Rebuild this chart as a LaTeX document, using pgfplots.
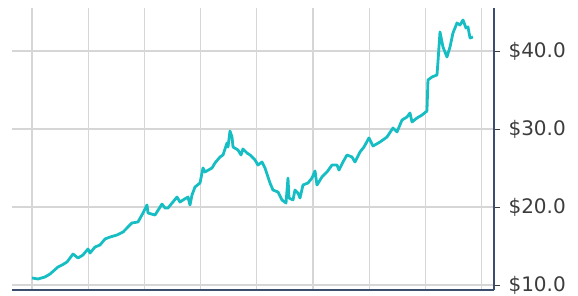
\documentclass[border=0pt]{standalone}
\usepackage{fontspec}
\setmainfont{DejaVu Sans}
\usepackage{pgfplots}
\pgfplotsset{compat=1.18}
\definecolor{linecyan}{RGB}{22,190,196}
\definecolor{spinecol}{RGB}{60,78,112}
\definecolor{gridcol}{RGB}{214,214,214}
\definecolor{labelcol}{RGB}{60,60,60}
\begin{document}
\begin{tikzpicture}
\begin{axis}[
  at={(0pt,0pt)}, anchor=south west,
  scale only axis, width=482pt, height=282pt,
  xmin=-0.356, xmax=8.221,
  ymin=9.36, ymax=45.51,
  axis x line=bottom, axis y line=right,
  axis line style={-, draw=spinecol, line width=1.1pt},
  xtick={0,1,2,3,4,5,6,7,8}, xticklabels={},
  xtick style={draw=none},
  ytick={10,20,30,40},
  yticklabel={\$\pgfmathprintnumber[fixed,fixed zerofill,precision=1]{\tick}},
  /pgf/number format/assume math mode=true,
  tick align=outside, major tick length=6pt,
  ytick style={draw=labelcol, line width=0.9pt},
  tick label style={font=\fontsize{20}{23}\selectfont, text=labelcol},
  yticklabel style={xshift=5pt},
  grid=major,
  major grid style={draw=gridcol, line width=1.2pt},
  clip=false,
]
\addplot[color=linecyan, line width=2.8pt, line join=round, mark=none] coordinates {
(0.000,10.90) (0.107,10.77) (0.231,11.03) (0.320,11.41) (0.463,12.31) (0.534,12.56)
(0.623,12.95) (0.730,13.97) (0.819,13.46) (0.907,13.85) (0.996,14.62) (1.032,14.10)
(1.121,14.87) (1.210,15.13) (1.299,15.90) (1.388,16.15) (1.512,16.41) (1.619,16.79)
(1.708,17.44) (1.779,17.95) (1.886,18.08) (1.975,19.23) (2.046,20.26) (2.064,19.23)
(2.189,18.97) (2.313,20.38) (2.367,19.87) (2.420,19.87) (2.580,21.28) (2.633,20.64)
(2.687,20.90) (2.776,21.28) (2.811,20.26) (2.847,21.54) (2.900,22.56) (2.989,23.08)
(3.043,25.00) (3.078,24.49) (3.203,25.00) (3.256,25.64) (3.345,26.41) (3.399,26.67)
(3.470,28.21) (3.488,27.69) (3.523,29.74) (3.559,28.97) (3.577,27.69) (3.665,27.31)
(3.719,26.67) (3.754,27.44) (3.826,26.92) (3.879,26.67) (3.968,26.03) (4.021,25.38)
(4.093,25.77) (4.146,25.00) (4.235,23.08) (4.288,22.18) (4.377,21.92) (4.448,20.90)
(4.520,20.51) (4.555,23.72) (4.573,21.15) (4.644,20.90) (4.680,22.18) (4.733,21.79)
(4.769,21.15) (4.822,22.82) (4.911,23.08) (4.982,23.72) (5.036,24.62) (5.071,22.82)
(5.160,23.85) (5.249,24.49) (5.338,25.38) (5.427,25.38) (5.463,24.74) (5.534,25.77)
(5.605,26.67) (5.694,26.41) (5.747,25.77) (5.836,27.05) (5.907,27.69) (5.996,28.85)
(6.068,27.82) (6.192,28.33) (6.317,28.97) (6.423,30.13) (6.495,29.62) (6.584,31.15)
(6.673,31.54) (6.726,32.05) (6.762,30.90) (6.851,31.41) (6.940,31.79) (7.028,32.31)
(7.046,36.28) (7.117,36.67) (7.206,36.92) (7.224,38.59) (7.260,42.44) (7.313,40.51)
(7.384,39.23) (7.438,40.51) (7.491,42.31) (7.562,43.59) (7.616,43.33) (7.669,43.97)
(7.722,42.95) (7.758,43.08) (7.794,41.67) (7.847,41.79)
};
\end{axis}
\pgfresetboundingbox
\useasboundingbox (-12pt,-5pt) rectangle (566pt,290pt);
\end{tikzpicture}
\end{document}
